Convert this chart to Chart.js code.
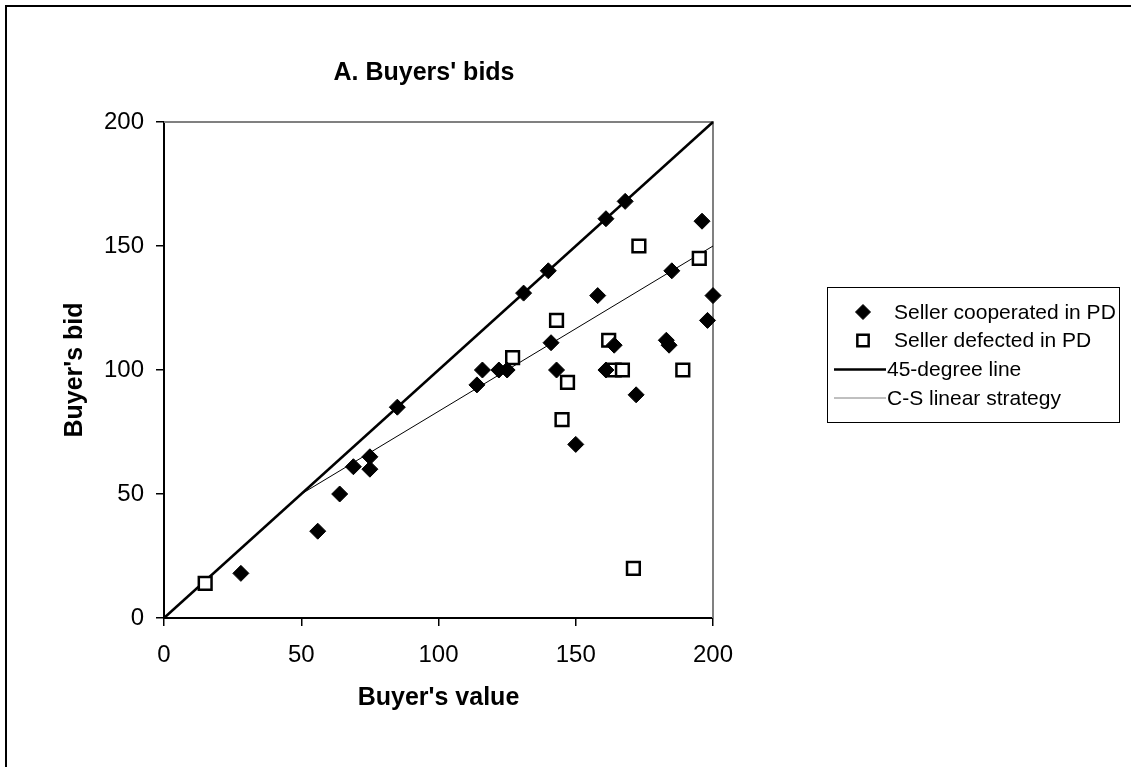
<!DOCTYPE html>
<html><head><meta charset="utf-8">
<script src="https://cdn.jsdelivr.net/npm/chart.js@4/dist/chart.umd.min.js"></script>
<style>html,body{margin:0;padding:0;background:#fff;}canvas{display:block;}</style>
</head><body>
<canvas id="c" width="1131" height="767"></canvas>
<script>
const chartTitle = "A. Buyers' bids";
const xAxisTitle = "Buyer's value";
const yAxisTitle = "Buyer's bid";
const seriesNames = ["Seller cooperated in PD", "Seller defected in PD", "45-degree line", "C-S linear strategy"];
const xTicks = [0, 50, 100, 150, 200];
const yTicks = [0, 50, 100, 150, 200];

const coopValue = [28, 56, 64, 69, 75, 75, 85, 114, 116, 122, 125, 131, 140, 141, 143, 150, 158, 161, 161, 164, 168, 172, 183, 184, 185, 196, 198, 200];
const coopBid   = [18, 35, 50, 61, 65, 60, 85, 94, 100, 100, 100, 131, 140, 111, 100, 70, 130, 161, 100, 110, 168, 90, 112, 110, 140, 160, 120, 130];

const defValue = [15, 127, 143, 145, 147, 162, 164, 167, 171, 173, 189, 195];
const defBid   = [14, 105, 120, 80, 95, 112, 100, 100, 20, 150, 100, 145];

const line45Value = [0, 200];
const line45Bid   = [0, 200];
const csValue = [50, 200];
const csBid   = [50, 150];

const FONT = "'Liberation Sans', Arial, sans-serif";
const pts = (xs, ys) => xs.map((x, i) => ({ x: x, y: ys[i] }));

const decorPlugin = {
  id: 'decor',
  beforeDatasetsDraw(chart) {
    const ctx = chart.ctx, a = chart.chartArea;
    ctx.save();
    ctx.strokeStyle = '#808080';
    ctx.lineWidth = 2;
    ctx.beginPath();
    ctx.moveTo(a.left, a.top);
    ctx.lineTo(a.right, a.top);
    ctx.lineTo(a.right, a.bottom);
    ctx.stroke();
    ctx.restore();
  },
  afterDraw(chart) {
    const ctx = chart.ctx;
    ctx.save();
    // outer frame
    ctx.strokeStyle = '#000';
    ctx.lineWidth = 2;
    ctx.beginPath();
    ctx.moveTo(6, chart.height);
    ctx.lineTo(6, 6);
    ctx.lineTo(chart.width, 6);
    ctx.stroke();
    // title
    ctx.fillStyle = '#000';
    ctx.font = "bold 25px " + FONT;
    ctx.textAlign = 'center';
    ctx.textBaseline = 'middle';
    ctx.fillText(chartTitle, 424, 73);
    // legend
    const bx = 827, by = 287, bw = 292, bh = 135;
    ctx.lineWidth = 1;
    ctx.strokeStyle = '#000';
    ctx.strokeRect(bx + 0.5, by + 0.5, bw, bh);
    const rows = [312, 340.5, 369.5, 398];
    ctx.font = "21px " + FONT;
    ctx.textAlign = 'left';
    chart.data.datasets.forEach((ds, i) => {
      const y = rows[i];
      if (ds.showLine) {
        ctx.strokeStyle = ds.legendColor || ds.borderColor;
        ctx.lineWidth = ds.borderWidth;
        ctx.beginPath();
        ctx.moveTo(834, y);
        ctx.lineTo(886, y);
        ctx.stroke();
        ctx.fillStyle = '#000';
        ctx.fillText(ds.label, 887, y + 1);
      } else {
        ctx.fillStyle = ds.backgroundColor;
        ctx.strokeStyle = ds.borderColor;
        ctx.lineWidth = ds.borderWidth;
        Chart.helpers.drawPoint(ctx, {
          pointStyle: ds.pointStyle,
          radius: ds.legendRadius,
          rotation: 0,
          borderWidth: ds.borderWidth
        }, 863, y);
        ctx.fillStyle = '#000';
        ctx.fillText(ds.label, 894, y + 1);
      }
    });
    ctx.restore();
  }
};

new Chart(document.getElementById('c'), {
  type: 'scatter',
  data: {
    datasets: [
      {
        label: seriesNames[0],
        data: pts(coopValue, coopBid),
        pointStyle: 'rectRot',
        pointRadius: 8,
        legendRadius: 7.5,
        backgroundColor: '#000',
        borderColor: '#000',
        borderWidth: 1,
        pointHoverRadius: 8,
        clip: false
      },
      {
        label: seriesNames[1],
        data: pts(defValue, defBid),
        pointStyle: 'rect',
        pointRadius: 9,
        legendRadius: 8,
        backgroundColor: '#fff',
        borderColor: '#000',
        borderWidth: 2.5,
        pointHoverRadius: 9,
        clip: false
      },
      {
        label: seriesNames[2],
        data: pts(line45Value, line45Bid),
        showLine: true,
        pointRadius: 0,
        borderColor: '#000',
        borderWidth: 2.5,
        backgroundColor: '#000',
        clip: false
      },
      {
        label: seriesNames[3],
        data: pts(csValue, csBid),
        showLine: true,
        pointRadius: 0,
        borderColor: '#000',
        legendColor: '#808080',
        borderWidth: 1,
        backgroundColor: '#000',
        clip: false
      }
    ]
  },
  options: {
    responsive: false,
    animation: false,
    layout: { padding: { left: 55, right: 418, top: 122, bottom: 54 } },
    plugins: {
      legend: { display: false },
      tooltip: { enabled: false },
      title: { display: false }
    },
    scales: {
      x: {
        type: 'linear',
        min: 0, max: 200,
        afterBuildTicks: s => { s.ticks = xTicks.map(v => ({ value: v })); },
        afterFit: s => { s.height = 95; },
        grid: { drawOnChartArea: false, drawTicks: true, tickLength: 8, color: '#000', lineWidth: 1.5 },
        border: { display: true, color: '#000', width: 2 },
        ticks: { color: '#000', font: { family: FONT, size: 24 }, padding: 15, maxRotation: 0 },
        title: { display: true, text: xAxisTitle, color: '#000', font: { family: FONT, size: 25, weight: 'bold' }, padding: { top: 0, bottom: 0 } }
      },
      y: {
        type: 'linear',
        min: 0, max: 200,
        afterBuildTicks: s => { s.ticks = yTicks.map(v => ({ value: v })); },
        afterFit: s => { s.width = 109; },
        grid: { drawOnChartArea: false, drawTicks: true, tickLength: 8, color: '#000', lineWidth: 1.5 },
        border: { display: true, color: '#000', width: 2 },
        ticks: { color: '#000', font: { family: FONT, size: 24 }, padding: 12 },
        title: { display: true, text: yAxisTitle, color: '#000', font: { family: FONT, size: 25, weight: 'bold' }, padding: { top: 5.5, bottom: 0 } }
      }
    }
  },
  plugins: [decorPlugin]
});
</script>
</body></html>
